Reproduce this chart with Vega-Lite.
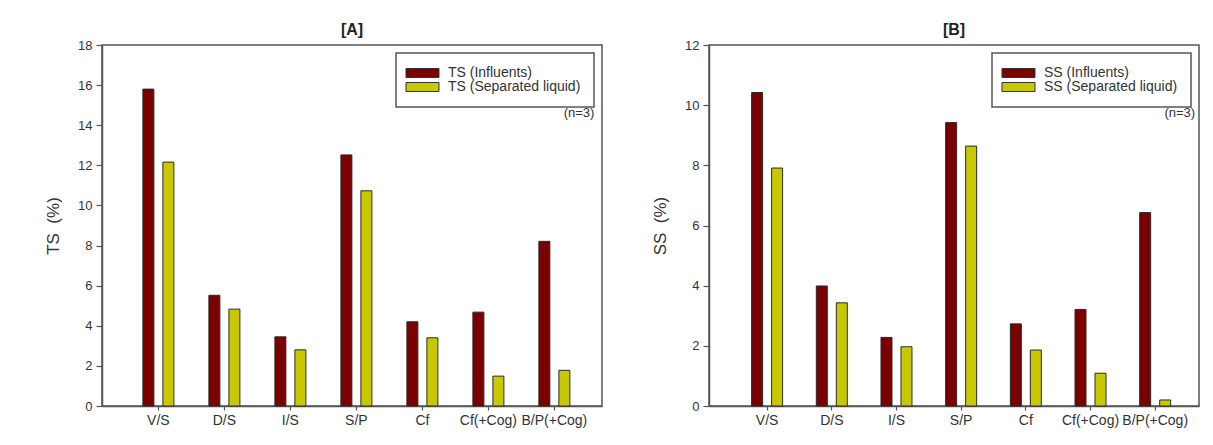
{
  "$schema": "https://vega.github.io/schema/vega-lite/v6.json",
  "padding": {"left": 43, "top": 21, "right": 5, "bottom": 5},
  "background": "white",
  "datasets": {
    "ts": [
      {"category": "V/S", "series": "TS (Influents)", "value": 15.8},
      {"category": "V/S", "series": "TS (Separated liquid)", "value": 12.16},
      {"category": "D/S", "series": "TS (Influents)", "value": 5.52},
      {"category": "D/S", "series": "TS (Separated liquid)", "value": 4.83},
      {"category": "I/S", "series": "TS (Influents)", "value": 3.45},
      {"category": "I/S", "series": "TS (Separated liquid)", "value": 2.8},
      {"category": "S/P", "series": "TS (Influents)", "value": 12.52},
      {"category": "S/P", "series": "TS (Separated liquid)", "value": 10.73},
      {"category": "Cf", "series": "TS (Influents)", "value": 4.2},
      {"category": "Cf", "series": "TS (Separated liquid)", "value": 3.4},
      {"category": "Cf(+Cog)", "series": "TS (Influents)", "value": 4.68},
      {"category": "Cf(+Cog)", "series": "TS (Separated liquid)", "value": 1.49},
      {"category": "B/P(+Cog)", "series": "TS (Influents)", "value": 8.21},
      {"category": "B/P(+Cog)", "series": "TS (Separated liquid)", "value": 1.78}
    ],
    "ss": [
      {"category": "V/S", "series": "SS (Influents)", "value": 10.42},
      {"category": "V/S", "series": "SS (Separated liquid)", "value": 7.91},
      {"category": "D/S", "series": "SS (Influents)", "value": 3.99},
      {"category": "D/S", "series": "SS (Separated liquid)", "value": 3.43},
      {"category": "I/S", "series": "SS (Influents)", "value": 2.28},
      {"category": "I/S", "series": "SS (Separated liquid)", "value": 1.97},
      {"category": "S/P", "series": "SS (Influents)", "value": 9.42},
      {"category": "S/P", "series": "SS (Separated liquid)", "value": 8.64},
      {"category": "Cf", "series": "SS (Influents)", "value": 2.73},
      {"category": "Cf", "series": "SS (Separated liquid)", "value": 1.86},
      {"category": "Cf(+Cog)", "series": "SS (Influents)", "value": 3.21},
      {"category": "Cf(+Cog)", "series": "SS (Separated liquid)", "value": 1.09},
      {"category": "B/P(+Cog)", "series": "SS (Influents)", "value": 6.43},
      {"category": "B/P(+Cog)", "series": "SS (Separated liquid)", "value": 0.2}
    ],
    "note": [{"label": "(n=3)"}]
  },
  "hconcat": [
    {
      "width": 500,
      "height": 361,
      "title": {"text": "[A]"},
      "layer": [
        {
          "data": {"name": "ts"},
          "transform": [{"filter": "datum.series === 'TS (Influents)'"}],
          "mark": {"type": "bar", "stroke": "#2a2a2a", "strokeWidth": 1, "width": 11, "xOffset": -10},
          "encoding": {
            "x": {"field": "category", "type": "nominal", "sort": null,
                  "scale": {"paddingInner": 0.53, "paddingOuter": 0.553, "align": 0.56},
                  "axis": {"title": null}},
            "y": {"field": "value", "type": "quantitative",
                  "scale": {"domain": [0, 18], "nice": false},
                  "axis": {"title": "TS\u00a0\u00a0(%)", "values": [0, 2, 4, 6, 8, 10, 12, 14, 16, 18]}},
            "color": {"field": "series", "type": "nominal",
                      "scale": {"domain": ["TS (Influents)", "TS (Separated liquid)"], "range": ["#7b0000", "#c8c800"]},
                      "legend": {"title": null}}
          }
        },
        {
          "data": {"name": "ts"},
          "transform": [{"filter": "datum.series === 'TS (Separated liquid)'"}],
          "mark": {"type": "bar", "stroke": "#2a2a2a", "strokeWidth": 1, "width": 11, "xOffset": 10},
          "encoding": {
            "x": {"field": "category", "type": "nominal", "sort": null},
            "y": {"field": "value", "type": "quantitative"},
            "color": {"field": "series", "type": "nominal"}
          }
        },
        {
          "data": {"name": "note"},
          "mark": {"type": "text", "align": "right", "baseline": "middle", "dx": 40, "fontSize": 13, "color": "#333", "font": "Liberation Sans"},
          "encoding": {
            "x": {"datum": "B/P(+Cog)"},
            "y": {"datum": 14.6},
            "text": {"field": "label"}
          }
        }
      ]
    },
    {
      "width": 490,
      "height": 361,
      "title": {"text": "[B]"},
      "layer": [
        {
          "data": {"name": "ss"},
          "transform": [{"filter": "datum.series === 'SS (Influents)'"}],
          "mark": {"type": "bar", "stroke": "#2a2a2a", "strokeWidth": 1, "width": 11, "xOffset": -10},
          "encoding": {
            "x": {"field": "category", "type": "nominal", "sort": null,
                  "scale": {"paddingInner": 0.53, "paddingOuter": 0.553, "align": 0.6},
                  "axis": {"title": null}},
            "y": {"field": "value", "type": "quantitative",
                  "scale": {"domain": [0, 12], "nice": false},
                  "axis": {"title": "SS\u00a0\u00a0(%)", "values": [0, 2, 4, 6, 8, 10, 12]}},
            "color": {"field": "series", "type": "nominal",
                      "scale": {"domain": ["SS (Influents)", "SS (Separated liquid)"], "range": ["#7b0000", "#c8c800"]},
                      "legend": {"title": null}}
          }
        },
        {
          "data": {"name": "ss"},
          "transform": [{"filter": "datum.series === 'SS (Separated liquid)'"}],
          "mark": {"type": "bar", "stroke": "#2a2a2a", "strokeWidth": 1, "width": 11, "xOffset": 10},
          "encoding": {
            "x": {"field": "category", "type": "nominal", "sort": null},
            "y": {"field": "value", "type": "quantitative"},
            "color": {"field": "series", "type": "nominal"}
          }
        },
        {
          "data": {"name": "note"},
          "mark": {"type": "text", "align": "right", "baseline": "middle", "dx": 40, "fontSize": 13, "color": "#333", "font": "Liberation Sans"},
          "encoding": {
            "x": {"datum": "B/P(+Cog)"},
            "y": {"datum": 9.73},
            "text": {"field": "label"}
          }
        }
      ]
    }
  ],
  "resolve": {"scale": {"color": "independent"}, "legend": {"color": "independent"}},
  "spacing": 47,
  "config": {
    "font": "Liberation Sans",
    "view": {"stroke": "#555", "strokeWidth": 1.5},
    "title": {"fontSize": 16, "fontWeight": "bold", "font": "Liberation Sans", "color": "#222", "offset": 1, "anchor": "middle"},
    "axis": {
      "grid": false,
      "domainColor": "#555",
      "domainWidth": 1.5,
      "tickColor": "#555",
      "tickWidth": 1.2,
      "labelColor": "#333",
      "labelFont": "Liberation Sans",
      "titleFont": "Liberation Sans",
      "titleFontSize": 17,
      "titleFontWeight": "normal",
      "titleColor": "#333"
    },
    "axisY": {"tickSize": 6, "labelPadding": 4, "titlePadding": 15, "labelFontSize": 13},
    "axisX": {"tickSize": 4, "labelPadding": 3, "labelAngle": 0, "labelFontSize": 14},
    "legend": {
      "orient": "top-right",
      "offset": 8,
      "strokeColor": "#555",
      "strokeWidth": 1.5,
      "fillColor": "white",
      "padding": 13,
      "rowPadding": 0,
      "labelFont": "Liberation Sans",
      "labelFontSize": 14,
      "labelColor": "#333",
      "labelOffset": 25,
      "symbolType": "M-1.667,-0.75L3.833,-0.75L3.833,0.75L-1.667,0.75Z",
      "symbolSize": 144,
      "symbolStrokeColor": "#333",
      "symbolStrokeWidth": 1,
      "symbolOpacity": 1
    }
  }
}
